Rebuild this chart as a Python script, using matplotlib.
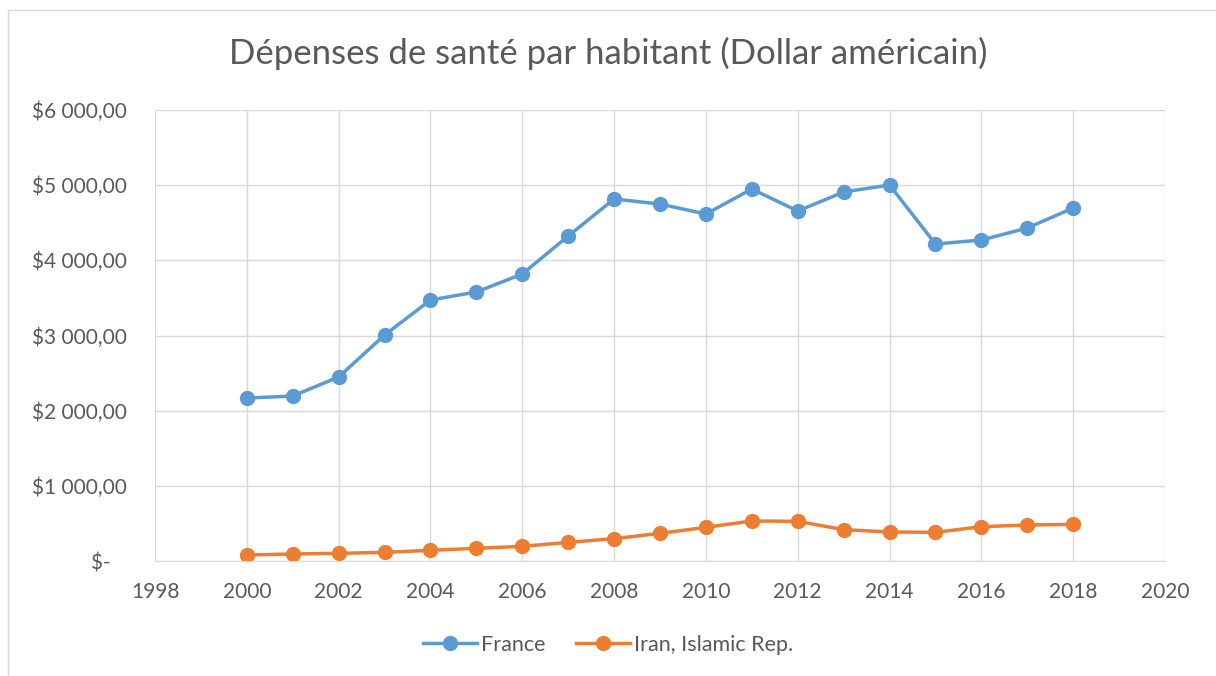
import matplotlib.pyplot as plt
from matplotlib.patches import Rectangle
from matplotlib.ticker import FuncFormatter

plt.rcParams['font.family'] = ['Lato', 'DejaVu Sans']

years = list(range(2000, 2019))
france = [2168, 2195, 2448, 3006, 3472, 3579, 3818, 4323, 4816, 4749,
          4616, 4949, 4656, 4909, 5002, 4217, 4270, 4430, 4696]
iran = [80, 93, 102, 115, 142, 169, 195, 248, 297, 368,
        448, 532, 528, 417, 386, 382, 456, 479, 488]

blue = '#5b9bd5'
orange = '#ed7d31'
gray = '#595959'

fig = plt.figure(figsize=(12.16, 6.76), dpi=100)
ax = fig.add_axes([155/1216, 1 - 561/676, 1010/1216, 451/676])

# chart border
fig.patches.append(Rectangle((8/1216, -0.01), 1.2, 1 - 10/676 + 0.01,
                             transform=fig.transFigure, fill=False,
                             edgecolor='#d9d9d9', linewidth=1))

ax.plot(years, france, color=blue, linewidth=2.5, marker='o', markersize=10, label='France')
ax.plot(years, iran, color=orange, linewidth=2.5, marker='o', markersize=10, label='Iran, Islamic Rep.')

ax.set_xlim(1998, 2020)
ax.set_ylim(0, 6000)
ax.set_xticks(range(1998, 2021, 2))
ax.set_yticks(range(0, 6001, 1000))


def money(v, pos):
    if v == 0:
        return '$-   '
    return '$' + f'{int(v):,}'.replace(',', ' ') + ',00'


ax.yaxis.set_major_formatter(FuncFormatter(money))
ax.grid(True, color='#d9d9d9', linewidth=1)
ax.set_axisbelow(True)
for s in ['top', 'right', 'left']:
    ax.spines[s].set_visible(False)
ax.spines['bottom'].set_color('#d9d9d9')
ax.tick_params(length=0, labelsize=15, labelcolor=gray)
ax.tick_params(axis='y', pad=20)
ax.tick_params(axis='x', pad=15)

fig.text(0.5, 1 - 53/676, 'Dépenses de santé par habitant (Dollar américain)',
         ha='center', va='center', fontsize=25, color=gray)

fig.legend(loc='center', bbox_to_anchor=(0.5, 1 - 645/676), ncol=2, frameon=False,
           fontsize=15.5, labelcolor=gray, handlelength=2.5, handletextpad=0.2, columnspacing=1.4)

fig.savefig('out.png', dpi=100)
